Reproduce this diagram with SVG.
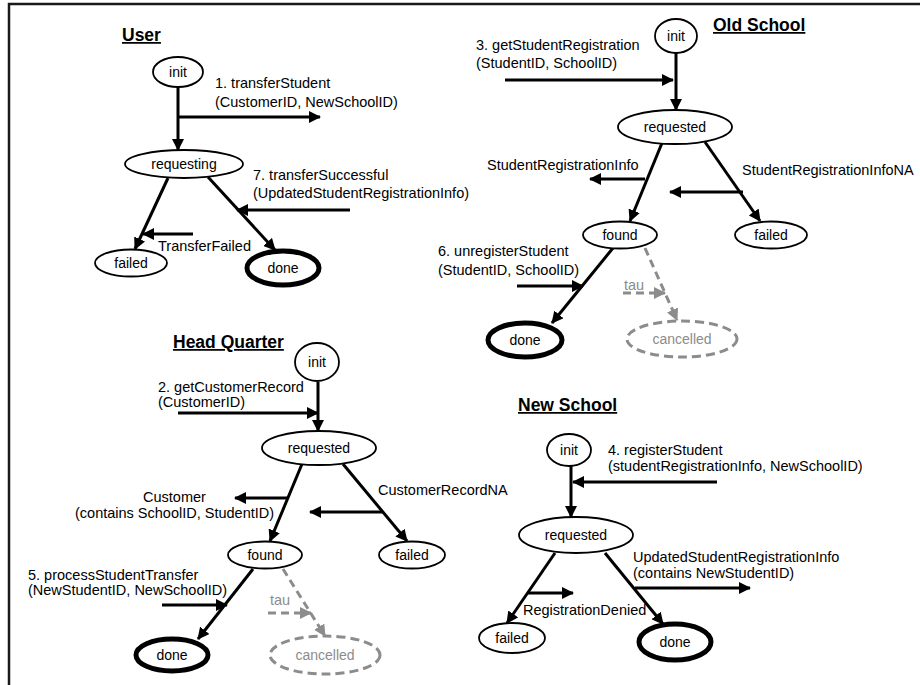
<svg xmlns="http://www.w3.org/2000/svg" width="920" height="685" viewBox="0 0 920 685">
<defs>
<marker id="ah" viewBox="0 0 12 12" refX="11" refY="6" markerWidth="12" markerHeight="12" markerUnits="userSpaceOnUse" orient="auto"><path d="M0,0 L12,6 L0,12 z" fill="#000"/></marker>
<marker id="ahg" viewBox="0 0 12 12" refX="11" refY="6" markerWidth="12" markerHeight="12" markerUnits="userSpaceOnUse" orient="auto"><path d="M0,0 L12,6 L0,12 z" fill="#8c8c8c"/></marker>
<style>
text{font-family:"Liberation Sans",Arial,sans-serif;font-size:14px;fill:#000}
.lbl{font-size:14.5px}
.title{font-size:17.5px;font-weight:bold;text-decoration:underline}
.nt{text-anchor:middle}
.gray{fill:#8c8c8c}
.st{fill:#fff;stroke:#000;stroke-width:1.8}
.fin{fill:#fff;stroke:#000;stroke-width:5}
.can{fill:#fff;stroke:#8c8c8c;stroke-width:3;stroke-dasharray:9 5}
.e{fill:none;stroke:#000;stroke-width:3;marker-end:url(#ah)}
.d{fill:none;stroke:#8c8c8c;stroke-width:3;stroke-dasharray:8 5;marker-end:url(#ahg)}
</style>
</defs>
<rect width="920" height="685" fill="#fff"/>
<path d="M9,685 L9,4 L920,4" fill="none" stroke="#1a1a1a" stroke-width="2.5"/>

<g id="connectors">
<!-- User -->
<path class="e" d="M178,87 L178,150"/>
<path class="e" d="M178,117 L320,117"/>
<path class="e" d="M168,178 L135,249"/>
<path class="e" d="M208,177 L275,250"/>
<path class="e" d="M193,234 L143,234"/>
<path class="e" d="M350,210 L237,210"/>
<!-- Old School -->
<path class="e" d="M676,53 L676,110"/>
<path class="e" d="M505,80 L673,80"/>
<path class="e" d="M662,143 L630,221"/>
<path class="e" d="M645,179 L590,179"/>
<path class="e" d="M705,142 L760,221"/>
<path class="e" d="M743,192 L670,192"/>
<path class="e" d="M613,248 L552,323"/>
<path class="e" d="M517,286 L583,286"/>
<path class="d" d="M645,248 L677,320"/>
<path class="d" d="M623,293 L665,293"/>
<!-- Head Quarter -->
<path class="e" d="M318,382 L318,431"/>
<path class="e" d="M178,413 L318,413"/>
<path class="e" d="M302,464 L270,541"/>
<path class="e" d="M287,498 L235,498"/>
<path class="e" d="M343,464 L407,541"/>
<path class="e" d="M383,512 L310,512"/>
<path class="e" d="M253,569 L198,639"/>
<path class="e" d="M162,605 L227,605"/>
<path class="d" d="M283,569 L325,636"/>
<path class="d" d="M268,613 L311,613"/>
<!-- New School -->
<path class="e" d="M571,466 L571,517"/>
<path class="e" d="M717,482 L573,482"/>
<path class="e" d="M555,553 L507,623"/>
<path class="e" d="M527,593 L573,593"/>
<path class="e" d="M605,553 L663,624"/>
<path class="e" d="M635,588 L750,588"/>
</g>

<g id="labels">
<text class="title" x="122" y="41">User</text>
<text class="lbl" x="215" y="88">1. transferStudent</text>
<text class="lbl" x="215" y="107">(CustomerID, NewSchoolID)</text>
<text class="lbl" x="253" y="180">7. transferSuccessful</text>
<text class="lbl" x="253" y="198">(UpdatedStudentRegistrationInfo)</text>
<text class="lbl" x="158" y="251">TransferFailed</text>

<text class="title" x="713" y="31">Old School</text>
<text class="lbl" x="476" y="50">3. getStudentRegistration</text>
<text class="lbl" x="476" y="68">(StudentID, SchoolID)</text>
<text class="lbl" x="487" y="170">StudentRegistrationInfo</text>
<text class="lbl" x="742" y="175">StudentRegistrationInfoNA</text>
<text class="lbl" x="438" y="256">6. unregisterStudent</text>
<text class="lbl" x="438" y="275">(StudentID, SchoolID)</text>
<text class="lbl gray" x="624" y="290">tau</text>

<text class="title" x="173" y="348">Head Quarter</text>
<text class="lbl" x="158" y="392">2. getCustomerRecord</text>
<text class="lbl" x="158" y="407">(CustomerID)</text>
<text class="lbl" x="143" y="502">Customer</text>
<text class="lbl" x="75" y="518">(contains SchoolID, StudentID)</text>
<text class="lbl" x="378" y="495">CustomerRecordNA</text>
<text class="lbl" x="28" y="580">5. processStudentTransfer</text>
<text class="lbl" x="28" y="595">(NewStudentID, NewSchoolID)</text>
<text class="lbl gray" x="270" y="605">tau</text>

<text class="title" x="518" y="411">New School</text>
<text class="lbl" x="608" y="455">4. registerStudent</text>
<text class="lbl" x="608" y="471">(studentRegistrationInfo, NewSchoolID)</text>
<text class="lbl" x="523" y="615">RegistrationDenied</text>
<text class="lbl" x="633" y="562">UpdatedStudentRegistrationInfo</text>
<text class="lbl" x="633" y="578">(contains NewStudentID)</text>
</g>

<g id="user-init"><ellipse class="st" cx="178" cy="72" rx="25" ry="15"/><text class="nt" x="178" y="77">init</text></g>
<g id="user-requesting"><ellipse class="st" cx="184" cy="164" rx="59" ry="14"/><text class="nt" x="184" y="169">requesting</text></g>
<g id="user-failed"><ellipse class="st" cx="131" cy="263" rx="36" ry="13.5"/><text class="nt" x="131" y="268">failed</text></g>
<g id="user-done"><ellipse class="fin" cx="283" cy="268" rx="36" ry="17"/><text class="nt" x="283" y="273">done</text></g>

<g id="old-init"><ellipse class="st" cx="676" cy="36" rx="21" ry="17"/><text class="nt" x="676" y="41">init</text></g>
<g id="old-requested"><ellipse class="st" cx="675" cy="127" rx="57" ry="17"/><text class="nt" x="675" y="132">requested</text></g>
<g id="old-found"><ellipse class="st" cx="620" cy="235" rx="37" ry="13.5"/><text class="nt" x="620" y="240">found</text></g>
<g id="old-failed"><ellipse class="st" cx="771" cy="235" rx="36" ry="13.5"/><text class="nt" x="771" y="240">failed</text></g>
<g id="old-done"><ellipse class="fin" cx="525" cy="340" rx="37" ry="17"/><text class="nt" x="525" y="345">done</text></g>
<g id="old-cancelled"><ellipse class="can" cx="682" cy="339" rx="55" ry="18"/><text class="nt gray" x="682" y="344">cancelled</text></g>

<g id="hq-init"><ellipse class="st" cx="317" cy="362" rx="22" ry="19"/><text class="nt" x="317" y="367">init</text></g>
<g id="hq-requested"><ellipse class="st" cx="319" cy="448" rx="57" ry="17"/><text class="nt" x="319" y="453">requested</text></g>
<g id="hq-found"><ellipse class="st" cx="265" cy="555" rx="37" ry="13.5"/><text class="nt" x="265" y="560">found</text></g>
<g id="hq-failed"><ellipse class="st" cx="412" cy="555" rx="33" ry="13.5"/><text class="nt" x="412" y="560">failed</text></g>
<g id="hq-done"><ellipse class="fin" cx="172" cy="655" rx="36" ry="16"/><text class="nt" x="172" y="660">done</text></g>
<g id="hq-cancelled"><ellipse class="can" cx="325" cy="655" rx="55" ry="19"/><text class="nt gray" x="325" y="660">cancelled</text></g>

<g id="new-init"><ellipse class="st" cx="569" cy="450" rx="22" ry="16"/><text class="nt" x="569" y="455">init</text></g>
<g id="new-requested"><ellipse class="st" cx="576" cy="535" rx="57" ry="18"/><text class="nt" x="576" y="540">requested</text></g>
<g id="new-failed"><ellipse class="st" cx="512" cy="638" rx="33" ry="15"/><text class="nt" x="512" y="643">failed</text></g>
<g id="new-done"><ellipse class="fin" cx="675" cy="642" rx="36" ry="18"/><text class="nt" x="675" y="647">done</text></g>
</svg>
